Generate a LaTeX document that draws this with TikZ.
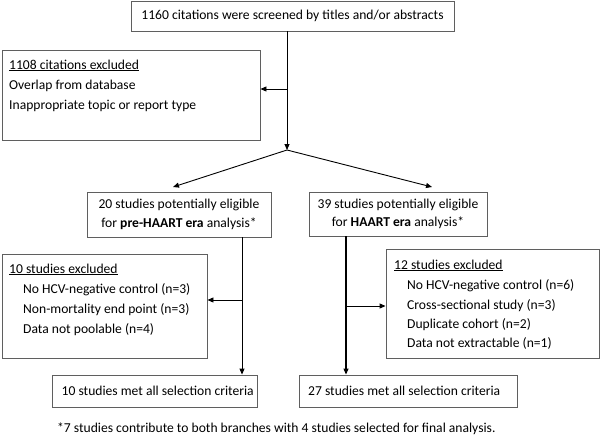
\documentclass[tikz,border=0pt]{standalone}
\usepackage{fontspec}
\setmainfont{Carlito}
\usetikzlibrary{arrows.meta}
\definecolor{boxgray}{RGB}{95,95,95}
\begin{document}
\begin{tikzpicture}[x=1pt,y=-1pt,
  box/.style={draw=boxgray, line width=0.9pt, inner sep=0pt},
  conn/.style={draw=black, line width=0.9pt},
  arr/.style={conn, -{Triangle[length=6pt,width=5pt]}},
  fnt/.style={font=\fontsize{13.6}{18.5}\selectfont},
  txt/.style={fnt, inner sep=0pt, anchor=base west}
]
\useasboundingbox (0,0) rectangle (601,437);

% boxes
\node[box, fnt, minimum width=323pt, minimum height=30pt] (top) at (292.5,16)
  {1160 citations were screened by titles and/or abstracts};
\node[box, minimum width=258pt, minimum height=90pt] (excl) at (131,95) {};
\node[box, fnt, align=center, minimum width=184pt, minimum height=45pt] (pre) at (179,214.5)
  {20 studies potentially eligible\\for \textbf{pre-HAART era} analysis*};
\node[box, fnt, align=center, minimum width=178pt, minimum height=44pt] (haart) at (398,214)
  {39 studies potentially eligible\\for \textbf{HAART era} analysis*};
\node[box, minimum width=205pt, minimum height=104pt] (exA) at (104.5,306) {};
\node[box, minimum width=213pt, minimum height=109pt] (exB) at (492.5,303.5) {};
\node[box, minimum width=205pt, minimum height=32pt] (metA) at (154.5,391) {};
\node[box, minimum width=218pt, minimum height=32pt] (metB) at (408,391) {};

% texts inside boxes
\node[txt] (t1) at (9,69) {\underline{1108 citations excluded}};
\node[txt] (t2) at (9,89) {Overlap from database};
\node[txt] (t3) at (9,109) {Inappropriate topic or report type};

\node[txt] (a1) at (9,273) {\underline{10 studies excluded}};
\node[txt] (a2) at (23,293) {No HCV-negative control (n=3)};
\node[txt] (a3) at (23,313) {Non-mortality end point (n=3)};
\node[txt] (a4) at (23,333) {Data not poolable (n=4)};

\node[txt] (b1) at (394,269) {\underline{12 studies excluded}};
\node[txt] (b2) at (407,289) {No HCV-negative control (n=6)};
\node[txt] (b3) at (407,309) {Cross-sectional study (n=3)};
\node[txt] (b4) at (407,328) {Duplicate cohort (n=2)};
\node[txt] (b5) at (407,347) {Data not extractable (n=1)};

\node[txt] (m1) at (61.5,395.5) {10 studies met all selection criteria};
\node[txt] (m2) at (308,395.5) {27 studies met all selection criteria};

\node[txt] (fn) at (57,432) {*7 studies contribute to both branches with 4 studies selected for final analysis.};

% connector points
\coordinate (split) at (287,150);
\coordinate (j1) at (287,89);
\coordinate (tipL) at (173,187);
\coordinate (tipR) at (432,187);
\coordinate (jL) at (242,300);
\coordinate (jR) at (346,306);

% connectors
\draw[arr] (top.south -| split) -- (split);
\draw[arr] (j1) -- (j1 -| excl.east);
\draw[arr] (split) -- (tipL);
\draw[arr] (split) -- (tipR);
\draw[arr] (pre.south -| jL) -- (metA.north -| jL);
\draw[arr] (jL) -- (jL -| exA.east);
\draw[arr, line width=1.2pt] (haart.south -| jR) -- (metB.north -| jR);
\draw[arr] (jR) -- (jR -| exB.west);
\end{tikzpicture}
\end{document}
